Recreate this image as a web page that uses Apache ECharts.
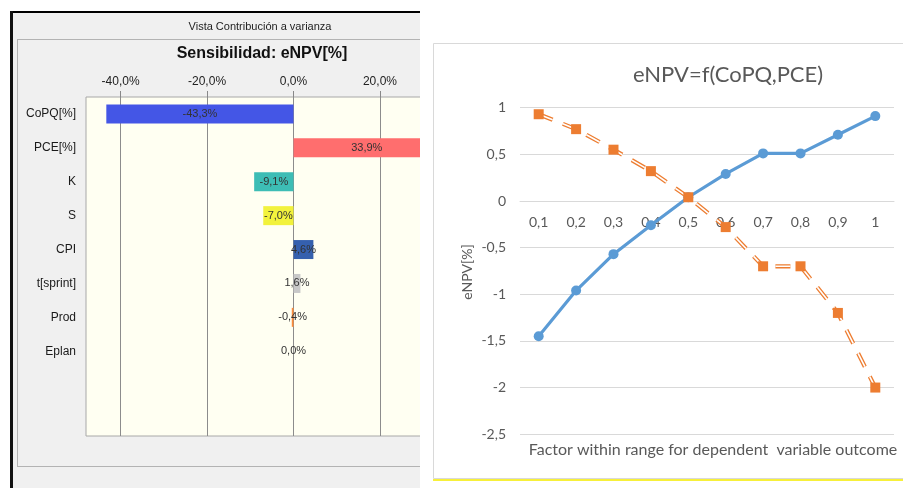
<!DOCTYPE html>
<html>
<head>
<meta charset="utf-8">
<script src="https://cdn.jsdelivr.net/npm/echarts@6/dist/echarts.min.js"></script>
<style>
  html, body { margin: 0; padding: 0; background: #ffffff; width: 903px; height: 488px; overflow: hidden; }
  #leftWrap { position: absolute; left: 0; top: 0; width: 420px; height: 488px; overflow: hidden; }
  #left { position: absolute; left: 0; top: 0; width: 520px; height: 488px; }
  #right { position: absolute; left: 420px; top: 0; width: 483px; height: 488px; }
</style>
</head>
<body>
<div id="leftWrap"><div id="left"></div></div>
<div id="right"></div>
<script>
// ---- Left: tornado chart data ----
const tornadoCategories = ['CoPQ[%]', 'PCE[%]', 'K', 'S', 'CPI', 't[sprint]', 'Prod', 'Eplan', '', ''];
const tornadoValues = [-43.3, 33.9, -9.1, -7.0, 4.6, 1.6, -0.4, 0.0];
const tornadoColors = ['#4456e6', '#ff6e6e', '#3dbdb5', '#f2f23c', '#3560ae', '#c8c8c8', '#ff8c3a', '#999999'];
const tornadoTicks = [-40, -20, 0, 20, 40];

// ---- Right: line chart data ----
const factorLabels = ['0,1', '0,2', '0,3', '0,4', '0,5', '0,6', '0,7', '0,8', '0,9', '1'];
const blueValues = [-1.45, -0.96, -0.57, -0.26, 0.04, 0.29, 0.51, 0.51, 0.71, 0.91];
const orangeValues = [0.93, 0.77, 0.55, 0.32, 0.04, -0.28, -0.70, -0.70, -1.20, -2.00];
const yMinRight = -2.5, yMaxRight = 1, yStepRight = 0.5;

const pct = v => v.toFixed(1).replace('.', ',') + '%';
const LF = 'Liberation Sans, Arial, sans-serif';
const RF = 'Lato, sans-serif';

const left = echarts.init(document.getElementById('left'), null, { renderer: 'canvas' });
left.setOption({
  animation: false,
  backgroundColor: 'transparent',
  graphic: { elements: [
    { type: 'rect', z: -20, shape: { x: 10, y: 11, width: 510, height: 477 }, style: { fill: '#f0f0f0' } },
    { type: 'rect', z: -19, shape: { x: 10, y: 11, width: 510, height: 2 }, style: { fill: '#000000' } },
    { type: 'rect', z: -19, shape: { x: 10, y: 11, width: 3, height: 477 }, style: { fill: '#111111' } },
    { type: 'rect', z: -18, shape: { x: 17.5, y: 39.5, width: 600, height: 427 }, style: { fill: 'none', stroke: '#777777', lineWidth: 1, lineDash: [1, 1] } }
  ] },
  title: [
    { text: 'Vista Contribución a varianza', left: 255, top: 16, textAlign: 'center',
      textStyle: { fontFamily: LF, fontSize: 11, fontWeight: 'normal', color: '#222222' } },
    { text: 'Sensibilidad: eNPV[%]', left: 257, top: 41, textAlign: 'center',
      textStyle: { fontFamily: LF, fontSize: 16, fontWeight: 'bold', color: '#111111' } }
  ],
  grid: { left: 86, top: 97, width: 415, height: 339, show: true, backgroundColor: '#fffff2', borderColor: '#a8a8a8', borderWidth: 1 },
  xAxis: {
    type: 'value', position: 'top', min: -48, max: 48,
    axisLine: { show: false },
    axisTick: { show: true, length: 6, lineStyle: { color: '#888888' }, customValues: tornadoTicks },
    axisLabel: { fontFamily: LF, fontSize: 12, color: '#222222', margin: 9, customValues: tornadoTicks, formatter: v => pct(v) },
    splitLine: { show: true, lineStyle: { color: '#8c8c8c', width: 1 } }
  },
  yAxis: {
    type: 'category', inverse: true, data: tornadoCategories,
    axisLine: { show: false }, axisTick: { show: false },
    axisLabel: { fontFamily: LF, fontSize: 12, color: '#1a1a1a', margin: 10 },
    splitLine: { show: false }
  },
  series: [{
    type: 'bar', barWidth: 19,
    data: tornadoValues.map((v, i) => ({ value: v, itemStyle: { color: tornadoColors[i] } })),
    label: { show: true, position: 'inside', fontFamily: LF, fontSize: 11, color: '#333333', formatter: p => pct(p.value) }
  }]
});

const right = echarts.init(document.getElementById('right'), null, { renderer: 'canvas' });
const dash = [15, 11];
const gridH = 326.5;
const zeroOffset = gridH * (0 - yMinRight) / (yMaxRight - yMinRight);
right.setOption({
  animation: false,
  backgroundColor: '#ffffff',
  graphic: { elements: [
    { type: 'rect', z: -20, shape: { x: 13.5, y: 43.5, width: 480, height: 435 }, style: { fill: '#ffffff', stroke: '#d9d9d9', lineWidth: 1 } },
    { type: 'rect', z: -19, shape: { x: 13, y: 479, width: 480, height: 2 }, style: { fill: '#f7f03a' } },
    { type: 'text', z: 5, style: { text: 'Factor within range for dependent  variable outcome', x: 293, y: 450, align: 'center', verticalAlign: 'middle', fontFamily: RF, fontSize: 16, fill: '#595959' } },
    { type: 'text', z: 5, x: 47, y: 272, rotation: Math.PI / 2, style: { text: 'eNPV[%]', x: 0, y: 0, align: 'center', verticalAlign: 'middle', fontFamily: RF, fontSize: 14, fill: '#595959' } }
  ] },
  title: { text: 'eNPV=f(CoPQ,PCE)', left: 303, top: 59, textAlign: 'center',
    textStyle: { fontFamily: RF, fontSize: 22, fontWeight: 'normal', color: '#595959' } },
  grid: { left: 100, top: 107.7, width: 374, height: gridH },
  xAxis: {
    type: 'category', data: factorLabels, boundaryGap: true, position: 'bottom', offset: -zeroOffset,
    axisLine: { show: true, onZero: false, lineStyle: { color: '#d9d9d9', width: 1 } },
    axisTick: { show: false },
    axisLabel: { fontFamily: RF, fontSize: 14, color: '#595959', margin: 14 },
    splitLine: { show: false }
  },
  yAxis: {
    type: 'value', min: yMinRight, max: yMaxRight, interval: yStepRight,
    axisLine: { show: false }, axisTick: { show: false },
    axisLabel: { fontFamily: RF, fontSize: 14, color: '#595959', margin: 14, formatter: v => String(v).replace('.', ',') },
    splitLine: { show: true, lineStyle: { color: '#d9d9d9', width: 1 } }
  },
  series: [
    { name: 'orangeOuter', type: 'line', data: orangeValues, showSymbol: false, symbol: 'none', z: 2,
      lineStyle: { color: '#ed7d31', width: 4.2, type: dash } },
    { name: 'orangeInner', type: 'line', data: orangeValues, showSymbol: false, symbol: 'none', z: 3,
      lineStyle: { color: '#ffffff', width: 1.6, type: dash } },
    { name: 'blue', type: 'line', data: blueValues, symbol: 'circle', symbolSize: 10, z: 4,
      itemStyle: { color: '#5b9bd5' }, lineStyle: { color: '#5b9bd5', width: 3.2 } },
    { name: 'orangeMarkers', type: 'line', data: orangeValues, symbol: 'rect', symbolSize: 10, z: 5,
      itemStyle: { color: '#ed7d31' }, lineStyle: { opacity: 0 } }
  ]
});
</script>
</body>
</html>
